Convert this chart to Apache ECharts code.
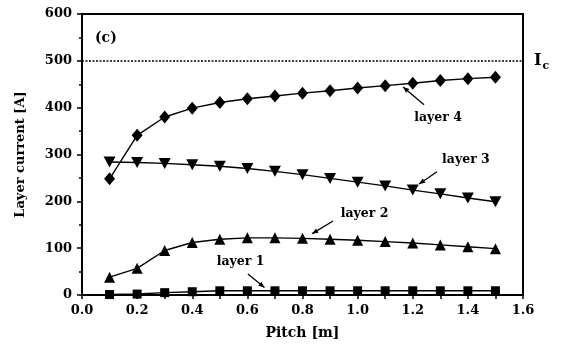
<!DOCTYPE html>
<html>
<head>
<meta charset="utf-8">
<script src="https://cdn.jsdelivr.net/npm/echarts@6/dist/echarts.min.js"></script>
<style>html,body{margin:0;padding:0;background:#fff}#c{width:566px;height:347px}</style>
</head>
<body>
<div id="c"></div>
<script>
var pitch = [0.1,0.2,0.3,0.4,0.5,0.6,0.7,0.8,0.9,1.0,1.1,1.2,1.3,1.4,1.5];
var layer1 = [1,2,5,7,9,9,9,9,9,9,9,9,9,9,9];
var layer2 = [38,57,95,112,119,122,122,121,119,117,114,111,107,103,99];
var layer3 = [284,283,281,278,275,270,264,257,249,241,233,224,216,207,199];
var layer4 = [248,341,380,399,411,419,425,431,436,442,447,452,458,462,465];
var criticalCurrent = 500;
var xTicks = [0.0,0.2,0.4,0.6,0.8,1.0,1.2,1.4,1.6];
var yTicks = [0,100,200,300,400,500,600];
// annotation: label text, label position [x,y], arrow from [x,y] to [x,y] (data coords)
var annLabels = ['layer 1','layer 2','layer 3','layer 4'];
var annText = [[0.575,70],[1.025,173],[1.393,288],[1.292,378]];
var annFrom = [[0.602,45],[0.911,158],[1.288,263],[1.241,406]];
var annTo = [[0.662,16],[0.835,131],[1.223,237],[1.165,444]];

var FONT = 'DejaVu Serif';
function pairs(xs, ys){ return xs.map(function(x,i){return [x, ys[i]];}); }
function ser(name, data, symbol, size, rot){
  return {name:name,type:'line',data:pairs(pitch,data),symbol:symbol,symbolSize:size,symbolRotate:rot||0,
    lineStyle:{color:'#000',width:1.4},itemStyle:{color:'#000'},z:3,animation:false};
}
var chart = echarts.init(document.getElementById('c'));
var s4 = ser('layer 4', layer4, 'diamond', [11,13]);
s4.markLine = {silent:true,symbol:'none',animation:false,
  lineStyle:{color:'#000',type:[2,1.5],width:1.5},
  label:{show:true,position:'end',distance:11,formatter:'{i|I}{s|c}',
    rich:{i:{fontFamily:FONT,fontWeight:'bold',fontSize:16,color:'#000'},
          s:{fontFamily:FONT,fontWeight:'bold',fontSize:11,color:'#000',padding:[10,0,0,1]}}},
  data:[[{coord:[0,criticalCurrent]},{coord:[1.6,criticalCurrent]}]]};
var option = {
  backgroundColor:'#fff',
  animation:false,
  grid:{left:82,right:43,top:14,bottom:52,show:true,borderColor:'#000',borderWidth:2},
  xAxis:{type:'value',min:0,max:1.6,interval:0.2,
    name:'Pitch [m]',nameLocation:'middle',nameGap:31,
    nameTextStyle:{fontFamily:FONT,fontWeight:'bold',fontSize:14,color:'#000'},
    axisLine:{lineStyle:{color:'#000',width:2}},
    axisTick:{show:true,length:4,lineStyle:{color:'#000',width:1.5}},
    minorTick:{show:true,splitNumber:2,length:4,lineStyle:{color:'#000',width:1.5}},
    splitLine:{show:false},
    axisLabel:{margin:9,fontFamily:FONT,fontWeight:'bold',fontSize:13,color:'#000',
      formatter:function(v){return v.toFixed(1);}}},
  yAxis:{type:'value',min:0,max:600,interval:100,
    name:'Layer current [A]',nameLocation:'middle',nameGap:55,
    nameTextStyle:{fontFamily:FONT,fontWeight:'bold',fontSize:13,color:'#000'},
    axisLine:{lineStyle:{color:'#000',width:2}},
    axisTick:{show:true,length:5,lineStyle:{color:'#000',width:1.5}},
    minorTick:{show:true,splitNumber:2,length:3,lineStyle:{color:'#000',width:1.5}},
    splitLine:{show:false},
    axisLabel:{margin:10,fontFamily:FONT,fontWeight:'bold',fontSize:13,color:'#000'}},
  series:[ser('layer 1',layer1,'rect',[9,9]), ser('layer 2',layer2,'triangle',[11,11]),
          ser('layer 3',layer3,'triangle',[12,11],180), s4]
};
chart.setOption(option);
var g = [{type:'text',left:95,top:31,style:{text:'(c)',font:'bold 14px "DejaVu Serif"',fill:'#000'}}];
annLabels.forEach(function(t,i){
  var p = chart.convertToPixel({gridIndex:0}, annText[i]);
  var a = chart.convertToPixel({gridIndex:0}, annFrom[i]);
  var b = chart.convertToPixel({gridIndex:0}, annTo[i]);
  g.push({type:'text',x:p[0],y:p[1],style:{text:t,font:'bold 12.5px "DejaVu Serif"',fill:'#000',align:'center',verticalAlign:'middle'}});
  g.push({type:'line',shape:{x1:a[0],y1:a[1],x2:b[0],y2:b[1]},style:{stroke:'#000',lineWidth:1.3}});
  var ang = Math.atan2(b[1]-a[1], b[0]-a[0]), L=6, W=2.5;
  var bx = b[0]-L*Math.cos(ang), by = b[1]-L*Math.sin(ang);
  g.push({type:'polygon',shape:{points:[[b[0],b[1]],[bx+W*Math.sin(ang),by-W*Math.cos(ang)],[bx-W*Math.sin(ang),by+W*Math.cos(ang)]]},style:{fill:'#000'}});
});
chart.setOption({graphic:g});
</script>
</body>
</html>
